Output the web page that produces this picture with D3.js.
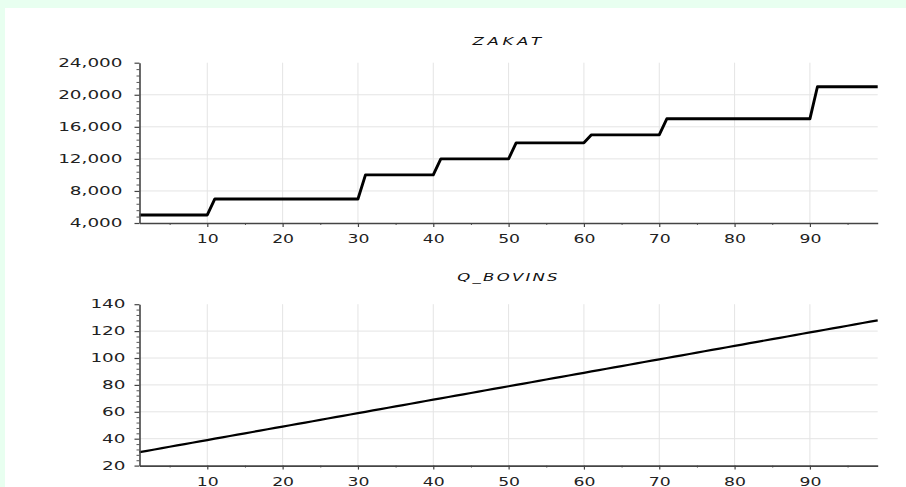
<!DOCTYPE html>
<html>
<head>
<meta charset="utf-8">
<script src="https://cdn.jsdelivr.net/npm/d3@7"></script>
<style>
  html, body { margin: 0; padding: 0; background: #e8fff0; }
  svg { display: block; }
</style>
</head>
<body>
<svg id="chart" width="906" height="487"></svg>
<script>
// ---- data ----
const ids = [1,2,3,4,5,6,7,8,9,10,11,12,13,14,15,16,17,18,19,20,21,22,23,24,25,26,27,28,29,30,
  31,32,33,34,35,36,37,38,39,40,41,42,43,44,45,46,47,48,49,50,51,52,53,54,55,56,57,58,59,60,
  61,62,63,64,65,66,67,68,69,70,71,72,73,74,75,76,77,78,79,80,81,82,83,84,85,86,87,88,89,90,
  91,92,93,94,95,96,97,98,99];
const zakat = [5000,5000,5000,5000,5000,5000,5000,5000,5000,5000,
  7000,7000,7000,7000,7000,7000,7000,7000,7000,7000,
  7000,7000,7000,7000,7000,7000,7000,7000,7000,7000,
  10000,10000,10000,10000,10000,10000,10000,10000,10000,10000,
  12000,12000,12000,12000,12000,12000,12000,12000,12000,12000,
  14000,14000,14000,14000,14000,14000,14000,14000,14000,14000,
  15000,15000,15000,15000,15000,15000,15000,15000,15000,15000,
  17000,17000,17000,17000,17000,17000,17000,17000,17000,17000,
  17000,17000,17000,17000,17000,17000,17000,17000,17000,17000,
  21000,21000,21000,21000,21000,21000,21000,21000,21000];
const qBovins = [30,31,32,33,34,35,36,37,38,39,40,41,42,43,44,45,46,47,48,49,50,51,52,53,54,55,56,57,58,59,
  60,61,62,63,64,65,66,67,68,69,70,71,72,73,74,75,76,77,78,79,80,81,82,83,84,85,86,87,88,89,
  90,91,92,93,94,95,96,97,98,99,100,101,102,103,104,105,106,107,108,109,110,111,112,113,114,115,116,117,118,119,
  120,121,122,123,124,125,126,127,128];
const xTicks = [10,20,30,40,50,60,70,80,90];
const xMinor = [5,15,25,35,45,55,65,75,85,95];
const zakatTicks = [4000,8000,12000,16000,20000,24000];
const qTicks = [20,40,60,80,100,120,140];
const titles = ["ZAKAT", "Q_BOVINS"];

// ---- drawing ----
const svg = d3.select("#chart");
svg.append("rect").attr("x",5).attr("y",8).attr("width",901).attr("height",479).attr("fill","#ffffff");

const L = 139.5, R = 877.7;
const x = d3.scaleLinear().domain([1, 99]).range([L, R]);
const SX = 1.5, SY = 1.6;
const fontFam = "'DejaVu Sans', Verdana, sans-serif";

function panel(cfg) {
  const y = d3.scaleLinear().domain(cfg.domain).range([cfg.bottom, cfg.top]);
  const g = svg.append("g");

  // grid
  g.append("g").selectAll("line.vg").data(xTicks).join("line")
    .attr("x1", d => x(d)).attr("x2", d => x(d))
    .attr("y1", cfg.top).attr("y2", cfg.bottom)
    .attr("stroke", "#e4e4e4").attr("stroke-width", 1);
  g.append("g").selectAll("line.hg").data(cfg.ticks.slice(1, -1)).join("line")
    .attr("x1", L).attr("x2", R)
    .attr("y1", d => y(d)).attr("y2", d => y(d))
    .attr("stroke", "#e4e4e4").attr("stroke-width", 1);

  // line
  const line = d3.line().x((d, i) => x(ids[i])).y(d => y(d));
  g.append("path").datum(cfg.values)
    .attr("d", line)
    .attr("fill", "none").attr("stroke", "#000").attr("stroke-width", cfg.sw)
    .attr("stroke-linejoin", "round");

  // minor ticks
  const step = (cfg.ticks[1] - cfg.ticks[0]) / 5;
  const yMinor = [];
  for (let k = 0; k < cfg.ticks.length - 1; k++) {
    for (let j = 1; j < 5; j++) yMinor.push(cfg.ticks[k] + j * step);
  }
  g.append("g").attr("transform", `translate(${L},0)`)
    .call(d3.axisLeft(y).tickValues(yMinor).tickSize(3).tickFormat("").tickSizeOuter(0))
    .call(a => a.select(".domain").remove())
    .call(a => a.selectAll("line").attr("stroke", "#555"));
  g.append("g").attr("transform", `translate(0,${cfg.bottom})`)
    .call(d3.axisBottom(x).tickValues(xMinor).tickSize(2).tickFormat("").tickSizeOuter(0))
    .call(a => a.select(".domain").remove())
    .call(a => a.selectAll("line").attr("stroke", "#555"));

  // y axis
  const ya = g.append("g").attr("transform", `translate(${L},0)`)
    .call(d3.axisLeft(y).tickValues(cfg.ticks).tickSize(5).tickSizeOuter(0).tickFormat(d3.format(",")));
  ya.select(".domain").attr("stroke", "#444").attr("stroke-width", 1.6);
  ya.selectAll(".tick line").attr("stroke", "#444").attr("stroke-width", 1.2);
  ya.selectAll(".tick text")
    .attr("x", 0)
    .attr("transform", `translate(${-cfg.ylabOff},0) scale(${SY},1)`)
    .attr("font-family", fontFam).attr("font-size", "11.5px").attr("fill", "#222");

  // x axis
  const xa = g.append("g").attr("transform", `translate(0,${cfg.bottom})`)
    .call(d3.axisBottom(x).tickValues(xTicks).tickSize(4).tickSizeOuter(0));
  xa.select(".domain").attr("stroke", "#444").attr("stroke-width", 1.6);
  xa.selectAll(".tick line").attr("stroke", "#444").attr("stroke-width", 1.2);
  xa.selectAll(".tick text")
    .attr("y", 12)
    .attr("transform", `scale(${SX},1)`)
    .attr("font-family", fontFam).attr("font-size", "11.5px").attr("fill", "#222");

  // title
  g.append("text")
    .attr("transform", `translate(${(L + R) / 2},${cfg.titleY}) scale(${SX},1)`)
    .attr("text-anchor", "middle")
    .attr("font-family", fontFam).attr("font-style", "italic")
    .attr("font-size", "11px").attr("letter-spacing", cfg.ls).attr("fill", "#111")
    .text(cfg.title);
}

panel({ domain: [4000, 24000], ticks: zakatTicks, top: 62.7, bottom: 223, values: zakat,
        sw: 2.9, title: titles[0], titleY: 45, ylabOff: 17, ls: "2.5px" });
panel({ domain: [20, 140], ticks: qTicks, top: 304.2, bottom: 465.6, values: qBovins,
        sw: 2.2, title: titles[1], titleY: 281, ylabOff: 14, ls: "1.5px" });
</script>
</body>
</html>
